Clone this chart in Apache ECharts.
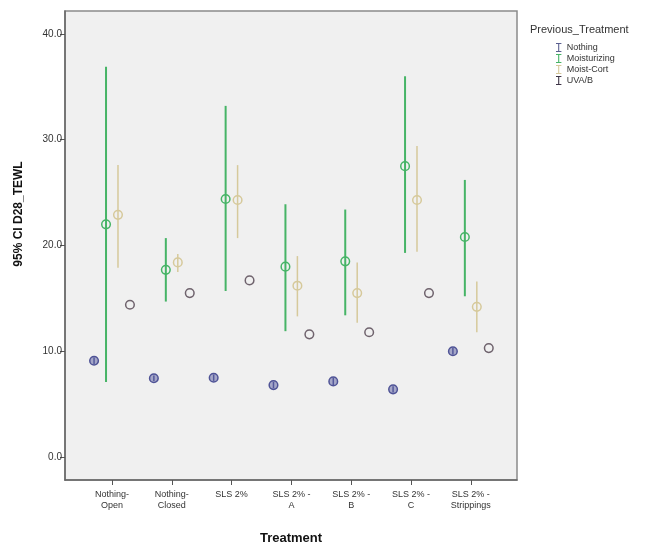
<!DOCTYPE html>
<html><head><meta charset="utf-8">
<script src="https://cdn.jsdelivr.net/npm/echarts@6/dist/echarts.min.js"></script>
<style>html,body{margin:0;padding:0;background:#fff}#c{width:665px;height:550px}</style>
</head><body><div id="c"></div>
<script>
const categories = ['Nothing-\nOpen','Nothing-\nClosed','SLS 2%','SLS 2% -\nA','SLS 2% -\nB','SLS 2% -\nC','SLS 2% -\nStrippings'];
const yTicks = [0,10,20,30,40];
const seriesNames = ['Nothing','Moisturizing','Moist-Cort','UVA/B'];

const nothingMean = [9.1,7.45,7.5,6.8,7.15,6.4,10.0];
const nothingLow  = [8.8,7.2,7.2,6.5,6.8,6.1,9.7];
const nothingHigh = [9.4,7.7,7.8,7.1,7.5,6.7,10.3];

const moistMean = [22.0,17.7,24.4,18.0,18.5,27.5,20.8];
const moistLow  = [7.1,14.7,15.7,11.9,13.4,19.3,15.2];
const moistHigh = [36.9,20.7,33.2,23.9,23.4,36.0,26.2];

const cortMean = [22.9,18.4,24.3,16.2,15.5,24.3,14.2];
const cortLow  = [17.9,17.5,20.7,13.3,12.7,19.4,11.8];
const cortHigh = [27.6,19.2,27.6,19.0,18.4,29.4,16.6];

const uvabMean = [14.4,15.5,16.7,11.6,11.8,15.5,10.3];
const uvabLow  = [14.4,15.5,16.7,11.6,11.8,15.5,10.3];
const uvabHigh = [14.4,15.5,16.7,11.6,11.8,15.5,10.3];

const groups = [
  {name:seriesNames[0], mean:nothingMean, low:nothingLow, high:nothingHigh, off:-0.3, color:'#4f5396', fill:'rgba(90,94,160,0.5)', lw:1.5, legend:'#5a5f90'},
  {name:seriesNames[1], mean:moistMean, low:moistLow, high:moistHigh, off:-0.1, color:'#46b466', fill:'none', lw:2, legend:'#46b466'},
  {name:seriesNames[2], mean:cortMean, low:cortLow, high:cortHigh, off:0.1, color:'#d6c99b', fill:'none', lw:1.5, legend:'#d6c99b'},
  {name:seriesNames[3], mean:uvabMean, low:uvabLow, high:uvabHigh, off:0.3, color:'#6f636d', fill:'none', lw:1.5, legend:'#3d3446'}
];

const ibeam = 'path://M0,0H6V1.2H3.6V8.8H6V10H0V8.8H2.4V1.2H0Z';

const series = groups.map(g => ({
  type:'custom', name:g.name,
  itemStyle:{color:g.legend},
  data: g.mean.map((m,i)=>[i,m,g.low[i],g.high[i]]),
  renderItem:(params, api)=>{
    const x = api.value(0) + g.off;
    const pm = api.coord([x, api.value(1)]);
    const pl = api.coord([x, api.value(2)]);
    const ph = api.coord([x, api.value(3)]);
    return {type:'group', children:[
      {type:'line', shape:{x1:pl[0],y1:pl[1],x2:ph[0],y2:ph[1]}, style:{stroke:g.color, lineWidth:g.lw}},
      {type:'circle', shape:{cx:pm[0],cy:pm[1],r:4.3}, style:{stroke:g.color, fill:g.fill, lineWidth:1.5}}
    ]};
  }
}));

const chart = echarts.init(document.getElementById('c'));
chart.setOption({
  animation:false,
  textStyle:{fontFamily:'Liberation Sans, Arial, sans-serif'},
  grid:{left:65, top:11, width:452, height:470, show:true, backgroundColor:'#f0f0f0', borderColor:'#8a8a8a', borderWidth:1.5},
  xAxis:{type:'value', min:-0.786, max:6.772,
    name:'Treatment', nameLocation:'middle', nameGap:52,
    nameTextStyle:{fontSize:13, fontWeight:'bold', color:'#111'},
    axisLine:{show:true, onZero:false, lineStyle:{color:'#666', width:1.5}},
    axisTick:{show:true, length:5, lineStyle:{color:'#555'}, customValues:[0,1,2,3,4,5,6]},
    axisLabel:{customValues:[0,1,2,3,4,5,6], fontSize:9, color:'#333', lineHeight:11, margin:9,
      formatter:v=>categories[Math.round(v)]},
    splitLine:{show:false}},
  yAxis:{type:'value', min:-2.17, max:42.17,
    axisLine:{show:true, onZero:false, lineStyle:{color:'#666', width:1.5}},
    axisTick:{show:true, length:5, lineStyle:{color:'#555'}, customValues:yTicks},
    axisLabel:{customValues:yTicks, fontSize:10, color:'#333', margin:3, formatter:v=>v.toFixed(1)},
    splitLine:{show:false}},
  legend:{orient:'vertical', left:556, top:43, itemWidth:6, itemHeight:9, itemGap:2, padding:0,
    icon:ibeam, data:seriesNames, textStyle:{fontSize:9, color:'#333'}, selectedMode:false},
  graphic:[
    {type:'text', left:530, top:24, style:{text:'Previous_Treatment', fontSize:11, fill:'#333', fontFamily:'Liberation Sans, Arial, sans-serif'}},
    {type:'text', x:19, y:214, rotation:Math.PI/2, style:{text:'95% CI D28_TEWL', fontSize:12, fontWeight:'bold', fill:'#111', align:'center', verticalAlign:'middle', fontFamily:'Liberation Sans, Arial, sans-serif'}}
  ],
  series:series
});
</script></body></html>
